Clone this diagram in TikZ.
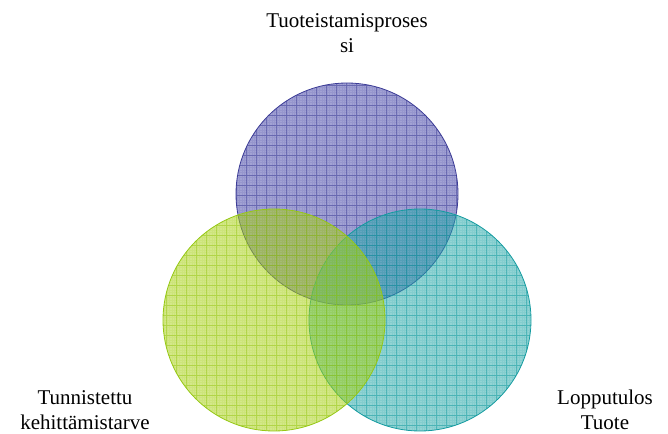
\documentclass[tikz,border=0pt]{standalone}
\usepackage{fontspec}
\setmainfont{Liberation Serif}
\definecolor{bluebase}{RGB}{70,70,170}
\definecolor{blueline}{RGB}{60,60,150}
\definecolor{greenbase}{RGB}{170,210,20}
\definecolor{greenline}{RGB}{150,200,20}
\definecolor{tealbase}{RGB}{40,170,170}
\definecolor{tealline}{RGB}{20,155,160}
\tikzset{
  lbl/.style={align=center,font=\fontsize{21pt}{25pt}\selectfont,inner sep=0pt},
}
\newcommand{\patcircle}[3]{%
  \begin{scope}
    \clip #1 circle[radius=111pt];
    \fill[#2, fill opacity=0.5] #1 circle[radius=111pt];
    \draw[#3, line width=0.6pt, opacity=0.5, step=10pt, xshift=6.7pt, yshift=5pt] (-10,-10) grid (680,450);
    \draw[#3, line width=0.3pt, opacity=0.12, step=2.5pt, xshift=6.7pt, yshift=5pt] (-10,-10) grid (680,450);
  \end{scope}
  \draw[#3, line width=0.8pt] #1 circle[radius=111pt];
}
\begin{document}
\begin{tikzpicture}[x=1pt,y=-1pt]
\useasboundingbox (0,0) rectangle (668,433);
\coordinate (cb) at (347,194);
\coordinate (ct) at (420,320);
\coordinate (cg) at (274,320);
\patcircle{(cb)}{bluebase}{blueline}
\patcircle{(ct)}{tealbase}{tealline}
\patcircle{(cg)}{greenbase}{greenline}
\node[lbl] (top) at (347,33) {Tuoteistamisproses\\si};
\node[lbl] (left) at (85,410) {Tunnistettu\\kehittämistarve};
\node[lbl] (right) at (605,410) {Lopputulos\\Tuote};
\end{tikzpicture}
\end{document}
